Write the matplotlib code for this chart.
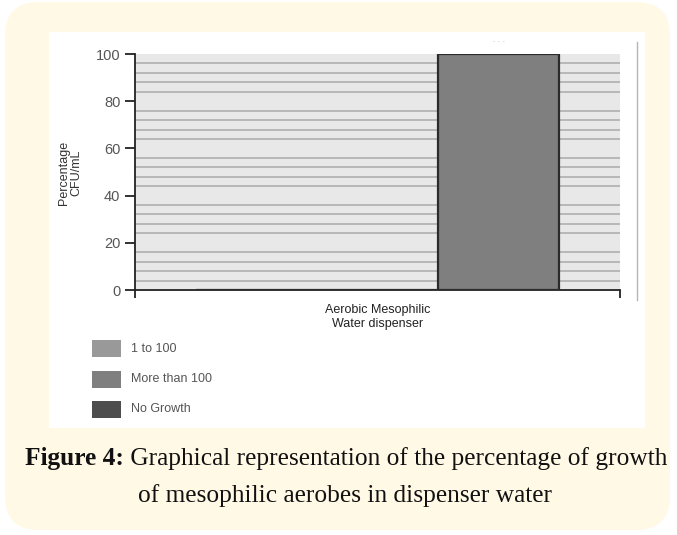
import numpy as np
import matplotlib.pyplot as plt
from matplotlib.patches import FancyBboxPatch, Rectangle
from matplotlib.lines import Line2D

# data
categories = ["Aerobic Mesophilic\nWater dispenser"]
series_names = ["1 to 100", "More than 100", "No Growth"]
series_values = [[0], [100], [0]]
series_offsets = [-1, 1, 0]
series_colors = ["#999999", "#7f7f7f", "#4d4d4d"]
y_ticks = [0, 20, 40, 60, 80, 100]

W, H = 677, 535
fig = plt.figure(figsize=(W / 100, H / 100), dpi=100)
fig.patch.set_facecolor("white")

def fx(px):
    return px / W

def fy(py):
    return 1 - py / H

# cream rounded frame and white panel
frame = FancyBboxPatch((fx(5), fy(530)), fx(670) - fx(5), fy(2) - fy(530),
                       boxstyle="round,pad=0,rounding_size=0.05",
                       transform=fig.transFigure, facecolor="#fff9e6",
                       edgecolor="none", zorder=-3, mutation_aspect=W / H)
fig.add_artist(frame)
fig.add_artist(Rectangle((fx(49), fy(428)), fx(645) - fx(49), fy(32) - fy(428),
                         transform=fig.transFigure, facecolor="white",
                         edgecolor="none", zorder=-2))
fig.add_artist(Line2D([fx(637), fx(637)], [fy(300), fy(42)],
                      transform=fig.transFigure, color="#b5b5b5", lw=1))

ax = fig.add_axes([fx(135), fy(290), fx(620) - fx(135), fy(54) - fy(290)])
ax.set_facecolor("#e8e8e8")
ax.set_axisbelow(True)

x = np.arange(len(categories))
width = 1.0
for name, vals, off, col in zip(series_names, series_values, series_offsets, series_colors):
    ax.bar(x + off * width, vals, width, color=col, edgecolor="#2b2b2b",
           linewidth=1.6, label=name, zorder=3)

ax.set_xlim(-2, 2)
ax.set_ylim(0, 100)
ax.set_yticks(y_ticks)
ax.set_yticks([v for v in range(4, 100, 4) if v % 20 != 0], minor=True)
ax.tick_params(axis="y", which="minor", length=0)
ax.tick_params(axis="y", which="major", length=7, width=1.3, color="#222222",
               labelsize=10.5, labelcolor="#555555", pad=3.5)
ax.grid(axis="y", which="minor", color="#b3b3b3", lw=1.3)
ax.set_xticks([-2, 2])
ax.set_xticklabels([])
ax.tick_params(axis="x", length=6, width=1.3, color="#222222")
for s in ["top", "right"]:
    ax.spines[s].set_visible(False)
for s in ["left", "bottom"]:
    ax.spines[s].set_linewidth(1.3)
    ax.spines[s].set_color("#222222")
for lab in ax.get_yticklabels():
    lab.set_family("Liberation Sans")

for i, cat in enumerate(categories):
    ax.text(x[i], -0.06, cat, transform=ax.get_xaxis_transform(), ha="center",
            va="top", fontsize=9, family="Liberation Sans", color="#222222",
            linespacing=1.2)

ax.text(1, 1.055, "- - -", transform=ax.get_xaxis_transform(), ha="center",
        va="center", fontsize=5, color="#d0d0d0")

fig.text(fx(70), fy(173), "Percentage\nCFU/mL", rotation=90, ha="center",
         va="center", fontsize=9, family="Liberation Sans", color="#333333",
         linespacing=1.1)

# legend, drawn as swatches in the lower left of the white panel
for i, (name, col) in enumerate(zip(series_names, series_colors)):
    top = 340 + i * 30.5
    fig.add_artist(Rectangle((fx(92), fy(top + 17)), fx(121) - fx(92),
                             fy(top) - fy(top + 17), transform=fig.transFigure,
                             facecolor=col, edgecolor="none"))
    fig.text(fx(131), fy(top + 8.5), name, fontsize=9, family="Liberation Sans",
             color="#555555", ha="left", va="center")

# caption
cap_size = 18.3
cap_font = "Liberation Serif"
renderer = fig.canvas.get_renderer()
bold_part = "Figure 4:"
rest_part = " Graphical representation of the percentage of growth"
t1 = fig.text(0, fy(465), bold_part, fontsize=cap_size, weight="bold",
              family=cap_font, va="baseline", ha="left", color="#111111")
t2 = fig.text(0, fy(465), rest_part, fontsize=cap_size, family=cap_font,
              va="baseline", ha="left", color="#111111")
w1 = t1.get_window_extent(renderer).width
w2 = t2.get_window_extent(renderer).width
x0 = 346 - (w1 + w2) / 2
t1.set_x(fx(x0))
t2.set_x(fx(x0 + w1))
fig.text(fx(345), fy(502), "of mesophilic aerobes in dispenser water",
         fontsize=cap_size, family=cap_font, va="baseline",
         ha="center", color="#111111")

fig.savefig("out.png", dpi=100)
